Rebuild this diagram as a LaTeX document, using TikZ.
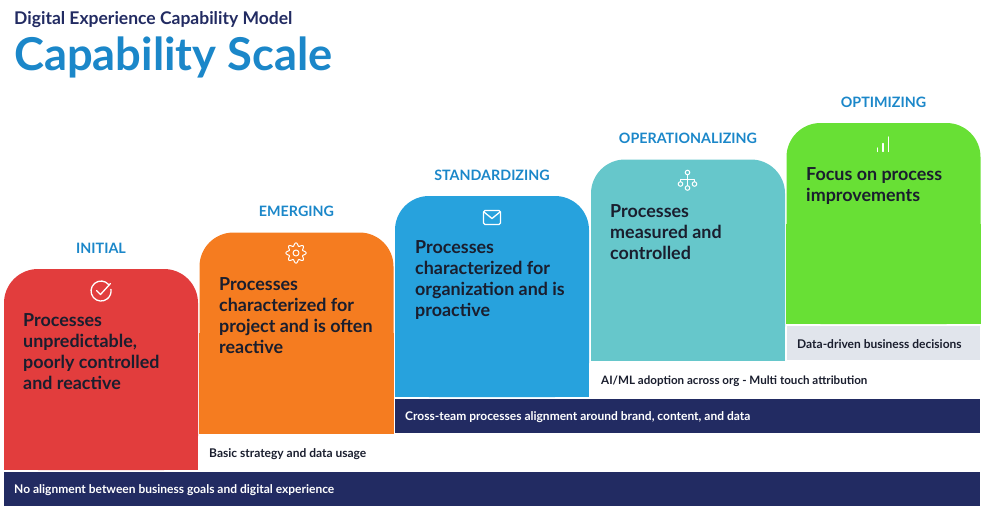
\documentclass[tikz,border=0pt]{standalone}
\usepackage{fontspec}
\setmainfont{Lato}
\usetikzlibrary{positioning}
\definecolor{stepred}{HTML}{E23D3D}
\definecolor{steporange}{HTML}{F57C20}
\definecolor{stepblue}{HTML}{27A2DD}
\definecolor{stepteal}{HTML}{66C7CB}
\definecolor{stepgreen}{HTML}{68E035}
\definecolor{barnavy}{HTML}{222B62}
\definecolor{bargrey}{HTML}{E1E5EC}
\definecolor{headblue}{HTML}{1B87C9}
\definecolor{inkdark}{HTML}{1A1E2E}

\begin{document}
\begin{tikzpicture}[x=1pt,y=-1pt,node distance=8pt]
  \tikzstyle{card}=[rectangle,rounded corners=34pt,minimum width=194pt,minimum height=201pt,inner sep=0pt]
  \tikzstyle{stage}=[inner sep=0pt,text=headblue,font=\fontsize{14.3}{16}\selectfont\bfseries]
  \tikzstyle{body}=[inner sep=0pt,text=inkdark,align=left,anchor=north west,font=\fontsize{17.9}{21}\selectfont\bfseries]
  \tikzstyle{bar}=[rectangle,fill=barnavy,minimum height=34pt,inner sep=0pt]
  \tikzstyle{note}=[inner sep=0pt,anchor=west,text=inkdark,font=\fontsize{12}{13}\selectfont\bfseries]
  \tikzstyle{icon}=[draw=white,line width=1.3pt,line cap=round,line join=round]
  \useasboundingbox (0,0) rectangle (986,514);
  % title
  \node [inner sep=0pt,anchor=west,text=barnavy,font=\fontsize{17.5}{18}\selectfont\bfseries] (model) at (14,20) {Digital Experience Capability Model};
  \node [inner sep=0pt,anchor=west,text=headblue,font=\fontsize{45.3}{48}\selectfont\bfseries] (scale) at (14,57) {Capability Scale};
  % steps
  \node [card,fill=stepred] (initial) at (101,369.5) {};
  \fill [stepred] (initial.west) rectangle (initial.south east);
  \node [card,fill=steporange] (emerging) at (296.5,333) {};
  \fill [steporange] (emerging.west) rectangle (emerging.south east);
  \node [card,fill=stepblue] (standardizing) at (492,296.5) {};
  \fill [stepblue] (standardizing.west) rectangle (standardizing.south east);
  \node [card,fill=stepteal] (operationalizing) at (688,260) {};
  \fill [stepteal] (operationalizing.west) rectangle (operationalizing.south east);
  \node [card,fill=stepgreen] (optimizing) at (883.5,223.5) {};
  \fill [stepgreen] (optimizing.west) rectangle (optimizing.south east);
  % stage names
  \node [stage,above=15pt of initial] (n1) {INITIAL};
  \node [stage,above=15pt of emerging] (n2) {EMERGING};
  \node [stage,above=15pt of standardizing] (n3) {STANDARDIZING};
  \node [stage,above=15pt of operationalizing] (n4) {OPERATIONALIZING};
  \node [stage,above=15pt of optimizing] (n5) {OPTIMIZING};
  % step texts
  \node [body] (t1) at (23,313) {Processes\\unpredictable,\\poorly controlled\\and reactive};
  \node [body] (t2) at (219,277) {Processes\\characterized for\\project and is often\\reactive};
  \node [body] (t3) at (415,240) {Processes\\characterized for\\organization and is\\proactive};
  \node [body] (t4) at (610,204) {Processes\\measured and\\controlled};
  \node [body] (t5) at (806,167) {Focus on process\\improvements};
  % bars
  \node [bar,minimum width=976pt] (b1) at (492,489) {};
  \node [bar,minimum width=585pt] (b2) at (687.5,416) {};
  \node [rectangle,fill=bargrey,minimum width=193pt,minimum height=34pt,inner sep=0pt] (b3) at (883.5,343) {};
  \node [note,text=white] (l1) at (14,490) {No alignment between business goals and digital experience};
  \node [note,text=white] (l2) at (405,417) {Cross-team processes alignment around brand, content, and data};
  \node [note] (l3) at (209,454) {Basic strategy and data usage};
  \node [note,font=\fontsize{11.6}{13}\selectfont\bfseries] (l4) at (601,381) {AI/ML adoption across org - Multi touch attribution};
  \node [note] (l5) at (797,344) {Data-driven business decisions};
  % icons
  \draw [icon] (108.7,284.6) arc (-40:-370:10);
  \draw [icon] (96.5,290.5) -- (100.5,294.5) -- (110.5,283.5);
  \draw [icon,line width=1pt,domain=0:360,samples=145,smooth] plot ({296+(8.6+1.5*cos(8*\x))*cos(\x)},{253+(8.6+1.5*cos(8*\x))*sin(\x)});
  \draw [icon,line width=1pt] (296,253) circle (3);
  \draw [icon,rounded corners=1.5pt] (483.5,210.5) rectangle (500.5,224.5);
  \draw [icon] (484,212) -- (492,218.5) -- (500,212);
  \draw [icon,line width=1pt] (687.5,172.5) circle (2.3) (680.5,184) circle (2.3) (694.5,184) circle (2.3) (687.5,188) circle (2.3);
  \draw [icon,line width=1pt] (687.5,174.8) -- (687.5,185.7) (680.5,181.7) -- (680.5,179) -- (694.5,179) -- (694.5,181.7);
  \draw [icon] (877.5,151.5) -- (877.5,148) (883,151.5) -- (883,143.5) (888.5,151.5) -- (888.5,137);
\end{tikzpicture}
\end{document}
